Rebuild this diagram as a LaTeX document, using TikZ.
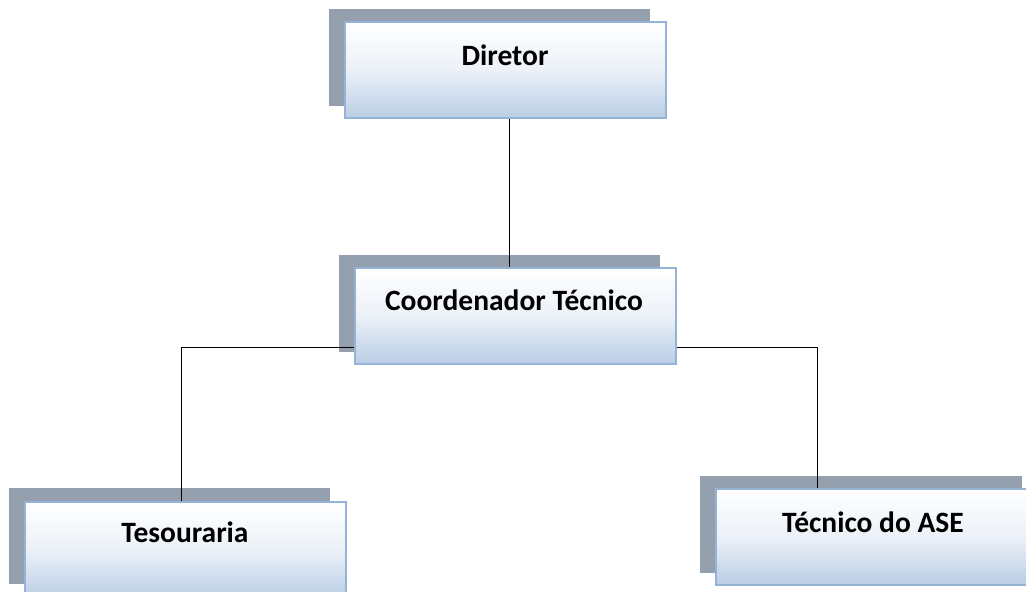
\documentclass[tikz,border=0pt]{standalone}
\usepackage{fontspec}
\setmainfont{Carlito}
\definecolor{shadowc}{RGB}{149,160,174}
\definecolor{boxline}{RGB}{149,179,215}
\definecolor{boxbot}{RGB}{185,205,229}
\definecolor{boxmid}{RGB}{236,241,248}
\tikzset{
  orgbox/.style={rectangle, draw=boxline, line width=1.6pt, minimum width=321pt, minimum height=96pt, inner sep=0pt,
    top color=white, bottom color=boxbot, middle color=boxmid},
  orgtext/.style={font=\fontsize{29.5}{34}\selectfont\bfseries, inner sep=0pt},
  link/.style={draw=black, line width=1pt}
}
\begin{document}
\begin{tikzpicture}[x=1pt,y=-1pt]
\useasboundingbox (0,0) rectangle (1026,592);
% shadows
\fill[shadowc] (329,9) rectangle (650,106);
\fill[shadowc] (339,255) rectangle (660,352);
\fill[shadowc] (9,488) rectangle (330,584);
\fill[shadowc] (700,476) rectangle (1022,573);
% boxes
\node[orgbox] (d) at (505.5,70) {};
\node[orgbox] (c) at (515.5,316) {};
\node[orgbox] (t) at (185.5,550) {};
\node[orgbox] (a) at (876.5,537) {};
% texts
\node[orgtext] (dt) at (505,55) {Diretor};
\node[orgtext] (ct) at (514,300) {Coordenador Técnico};
\node[orgtext] (tt) at (185,532) {Tesouraria};
\node[orgtext] (at) at (873,522) {Técnico do ASE};
% connectors
\draw[link] ([shift={(4,0)}]d.south) -- ([shift={(4,0)}]d.south |- c.north);
\draw[link] ([shift={(0,31)}]c.west) -| ([shift={(-4,0)}]t.north);
\draw[link] ([shift={(0,31)}]c.east) -| ([shift={(-59.5,0)}]a.north);
\end{tikzpicture}
\end{document}
